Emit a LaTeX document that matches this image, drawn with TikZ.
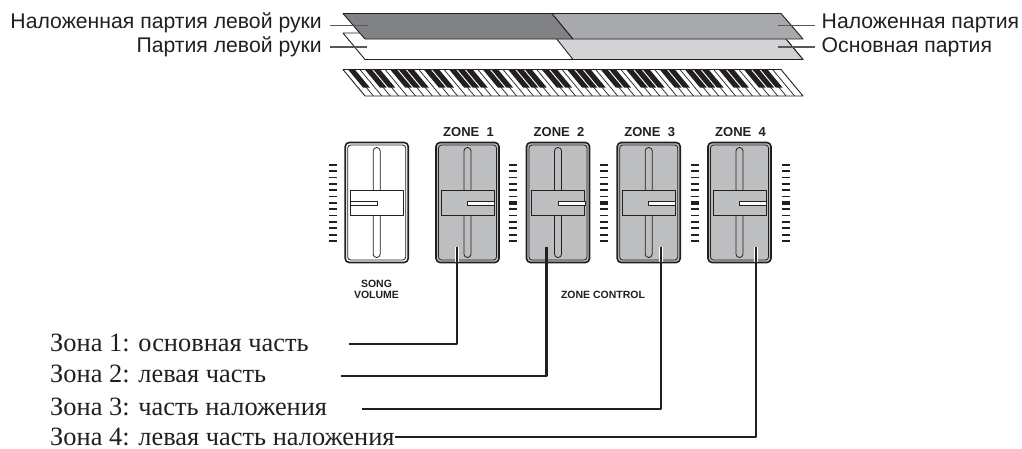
\documentclass[tikz,border=0pt]{standalone}
\usepackage{fontspec}
\setmainfont{Liberation Serif}
\setsansfont{Liberation Sans}
\usepackage{xcolor}
\usetikzlibrary{calc}
\definecolor{bandone}{RGB}{128,130,133}
\definecolor{bandtwo}{RGB}{167,169,172}
\definecolor{bandthree}{RGB}{209,211,212}
\definecolor{faderfill}{RGB}{188,190,192}
\definecolor{inkcolor}{RGB}{35,31,32}

\begin{document}
\begin{tikzpicture}[x=1pt,y=-1pt,line join=round,
outerbox/.style={draw=inkcolor,line width=1.6pt,rounded corners=4pt,minimum width=63pt,minimum height=120pt,inner sep=0pt},
innerbox/.style={draw=inkcolor,line width=0.8pt,rounded corners=3pt,minimum width=58pt,minimum height=115pt,inner sep=0pt},
faderslot/.style={draw=inkcolor,line width=0.8pt,rounded corners=3.4pt,minimum width=7pt,minimum height=110pt,inner sep=0pt},
faderhead/.style={draw=inkcolor,line width=1pt,minimum width=53pt,minimum height=24.5pt,inner sep=0pt},
faderslit/.style={draw=inkcolor,line width=0.5pt,fill=white,minimum width=27pt,minimum height=4pt,inner sep=0pt},
scalemark/.style={draw=inkcolor,line width=1.7pt},
partlabel/.style={font=\sffamily\fontsize{21.2}{21.2}\selectfont,inner sep=0pt,text=inkcolor},
zonelabel/.style={font=\fontsize{26.4}{26.4}\selectfont,inner sep=0pt,anchor=base west,text=inkcolor},
zonetitle/.style={font=\sffamily\bfseries\fontsize{13}{13}\selectfont,inner sep=0pt,text=inkcolor},
panellabel/.style={font=\sffamily\bfseries\fontsize{10.5}{11}\selectfont,inner sep=0pt,align=center,text=inkcolor},
band/.style={draw=inkcolor,line width=0.9pt},
pointer/.style={draw=inkcolor!75,line width=1.1pt},
leadline/.style={draw=inkcolor,line width=2.1pt}]
\useasboundingbox (0,0) rectangle (1022,448);
% layers above the keyboard
\draw[band,fill=white] (343,33)--(781,33)--(803,59.5)--(365,59.5)--cycle;
\draw[band,fill=bandthree] (552,33)--(781,33)--(803,59.5)--(573,59.5)--cycle;
\draw[band,fill=bandone] (343,13.5)--(552,13.5)--(573,39)--(365,39)--cycle;
\draw[band,fill=bandtwo] (552,13.5)--(781,13.5)--(803,39)--(573,39)--cycle;
% keyboard
\draw[band,fill=white] (343,69.5)--(781,69.5)--(803,96)--(365,96)--cycle;
\foreach \k in {1,...,51} \draw[inkcolor,line width=0.7pt] ({343+\k*8.423},69.5)--({365+\k*8.423},96);
\foreach \o in {0,...,7} \foreach \n in {1,3,4,6,7} {
  \pgfmathsetmacro{\kx}{343+(\o*7+\n)*8.423}
  \ifdim\kx pt<780pt
  \fill[inkcolor] ({\kx-3.4},69.5)--({\kx+3.4},69.5)--({\kx+18.4},87.5)--({\kx+11.6},87.5)--cycle;
  \fi}
% part labels
\node[partlabel,anchor=base east](overleft) at (322,28){Наложенная партия левой руки};
\node[partlabel,anchor=base east](partleft) at (322,52){Партия левой руки};
\node[partlabel,anchor=base west](overmain) at (821.5,28){Наложенная партия};
\node[partlabel,anchor=base west](partmain) at (821.5,52){Основная партия};
\coordinate(bandA) at (368,25.5); \coordinate(bandB) at (367,47); \coordinate(bandC) at (778,25.5); \coordinate(bandD) at (778,47);
\draw[pointer]($(overleft.east |- bandA)+(8,0)$)--(bandA); \draw[pointer]($(partleft.east |- bandB)+(8,0)$)--(bandB);
\draw[pointer]($(overmain.west |- bandC)+(-6.5,0)$)--(bandC); \draw[pointer]($(partmain.west |- bandD)+(-6.5,0)$)--(bandD);
% sliders
\foreach \name/\cx/\col/\sx in {song/376.7/white/-13.3,zone1/467.5/faderfill/13.3,zone2/558/faderfill/13.3,zone3/648.7/faderfill/13.3,zone4/739.5/faderfill/13.3}{
  \node[outerbox,fill=\col](\name) at (\cx,202.5){};
  \node[innerbox](\name in) at (\name.center){};
  \node[faderslot,fill=\col](\name tr) at (\name.center){};
  \node[faderhead,fill=\col](\name head) at (\cx,203){};
  \node[faderslit](\name sl) at ($(\name head.center)+(\sx,-0.2)$){};
}
% scale marks
\foreach \tx/\big in {333/0,513/1,604/1,695/1,786/1}{
  \foreach \m in {0,...,12} \draw[scalemark] ({\tx-4.2},{164.7+\m*6.36})--({\tx+4.2},{164.7+\m*6.36});
  \ifnum\big=1 \fill[inkcolor] ({\tx-4.2},200.6) rectangle ({\tx+4.2},205.4); \fi
}
% panel texts
\foreach \i in {1,2,3,4} \node[zonetitle] (title\i) at ($(zone\i.north)+(1,-10)$) {ZONE\ \ \i};
\node[panellabel](songlabel) at (376.5,289.5){SONG\\VOLUME};
\node[panellabel](zonecontrol) at (603,295){ZONE CONTROL};
% zone labels
\node[zonelabel](labelA) at (50,351){Зона 1: основная часть};
\node[zonelabel](labelB) at (50,382.7){Зона 2: левая часть};
\node[zonelabel](labelC) at (50,415){Зона 3: часть наложения};
\node[zonelabel](labelD) at (50,445.5){Зона 4: левая часть наложения};
\coordinate(topA) at (457,247); \coordinate(topB) at (546.5,247); \coordinate(topC) at (661,247); \coordinate(topD) at (755.7,247);
\coordinate(endA) at (349,344.3); \coordinate(endB) at (341,375.7); \coordinate(endC) at (362,409);
\foreach \e in {topA,topB,topC,topD} \draw[white,line width=3.6pt] (\e)--($(\e)+(0,15)$);
\draw[leadline](topA)|-(endA); \draw[leadline](topB)|-(endB); \draw[leadline](topC)|-(endC); \draw[leadline](topD)|-(labelD.east);
\end{tikzpicture}
\end{document}
